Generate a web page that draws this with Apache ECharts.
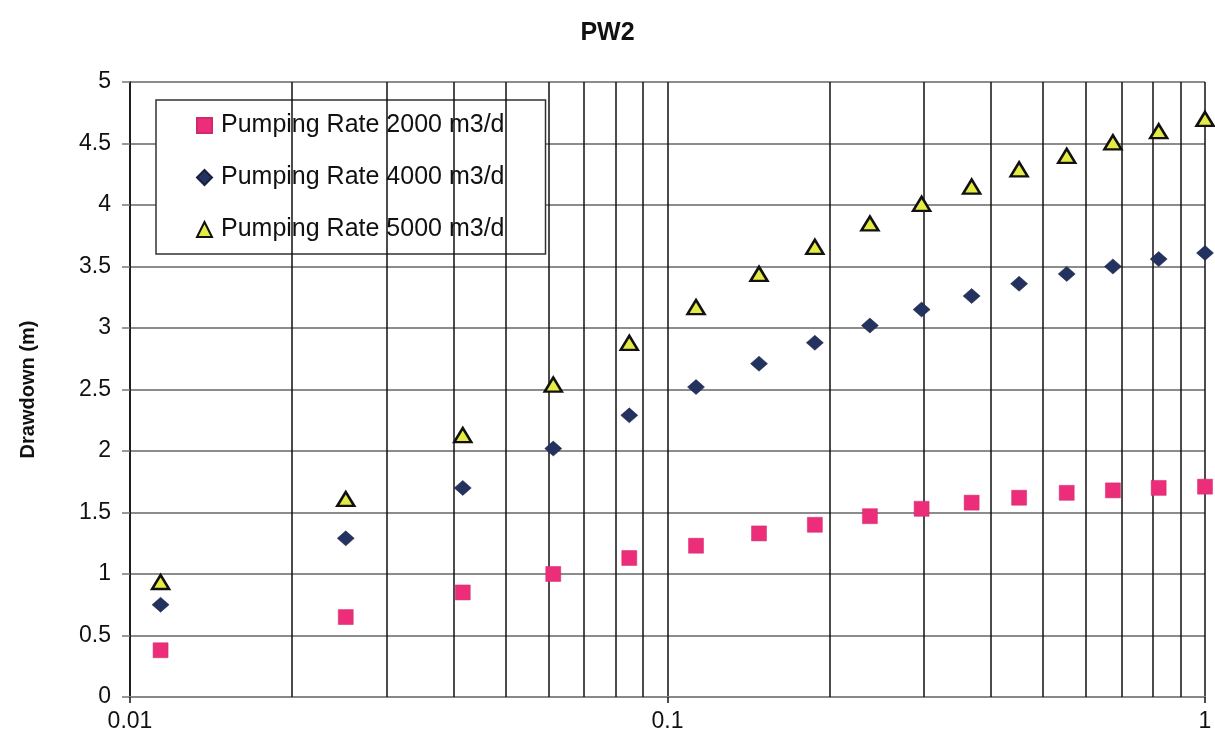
<!DOCTYPE html>
<html>
<head>
<meta charset="utf-8">
<title>PW2</title>
<script src="https://cdn.jsdelivr.net/npm/echarts@6/dist/echarts.min.js"></script>
<style>
  html, body { margin: 0; padding: 0; background: #fff; }
  #chart { width: 1215px; height: 751px; }
</style>
</head>
<body>
<div id="chart"></div>
<script>
// time (x, log axis) shared by all three tests
const times = [0.0114, 0.0252, 0.0416, 0.0613, 0.0849, 0.113, 0.148, 0.188, 0.238, 0.297, 0.368, 0.451, 0.553, 0.674, 0.820, 1.0];

// drawdown (m) for each pumping rate
const rate2000 = [0.38, 0.65, 0.85, 1.00, 1.13, 1.23, 1.33, 1.40, 1.47, 1.53, 1.58, 1.62, 1.66, 1.68, 1.70, 1.71];
const rate4000 = [0.75, 1.29, 1.70, 2.02, 2.29, 2.52, 2.71, 2.88, 3.02, 3.15, 3.26, 3.36, 3.44, 3.50, 3.56, 3.61];
const rate5000 = [0.935, 1.61, 2.13, 2.54, 2.88, 3.17, 3.44, 3.66, 3.85, 4.01, 4.15, 4.29, 4.40, 4.51, 4.60, 4.70];

const seriesNames = ['Pumping Rate 2000 m3/d', 'Pumping Rate 4000 m3/d', 'Pumping Rate 5000 m3/d'];

// minor log grid lines between the decades
const minorGrid = [0.02, 0.03, 0.04, 0.05, 0.06, 0.07, 0.08, 0.09, 0.2, 0.3, 0.4, 0.5, 0.6, 0.7, 0.8, 0.9];

const font = '"Liberation Sans", Arial, sans-serif';

function pairs(ys) {
    return times.map((t, i) => [t, ys[i]]);
}

const chart = echarts.init(document.getElementById('chart'));

const option = {
    backgroundColor: '#fff',
    animation: false,
    title: {
        text: 'PW2',
        left: 'center',
        top: 16,
        textStyle: { fontFamily: font, fontSize: 25, fontWeight: 'bold', color: '#111' }
    },
    grid: { left: 130, right: 10, top: 82, bottom: 54 },
    legend: {
        orient: 'vertical',
        left: 156,
        top: 100,
        padding: [13, 41, 12, 40],
        itemGap: 27,
        itemWidth: 15,
        itemHeight: 15,
        borderColor: '#333',
        borderWidth: 1.5,
        backgroundColor: '#fff',
        textStyle: { fontFamily: font, fontSize: 25, color: '#111', padding: [0, 0, 0, 4] },
        data: seriesNames
    },
    xAxis: {
        type: 'log',
        logBase: 10,
        min: 0.01,
        max: 1,
        axisLine: { lineStyle: { color: '#888', width: 2 } },
        axisTick: { show: true, length: 6, lineStyle: { color: '#111', width: 1.5 } },
        axisLabel: {
            fontFamily: font, fontSize: 23, color: '#111', margin: 13,
            formatter: v => String(+v.toPrecision(2))
        },
        splitLine: { show: true, lineStyle: { color: '#111', width: 1.5 } }
    },
    yAxis: {
        type: 'value',
        min: 0,
        max: 5,
        interval: 0.5,
        name: 'Drawdown (m)',
        nameLocation: 'middle',
        nameGap: 92,
        nameTextStyle: { fontFamily: font, fontSize: 20, fontWeight: 'bold', color: '#111' },
        axisLine: { show: true, lineStyle: { color: '#111', width: 1.5 } },
        axisTick: { show: true, length: 8, lineStyle: { color: '#777', width: 1.5 } },
        axisLabel: { fontFamily: font, fontSize: 23, color: '#111', margin: 19 },
        splitLine: { show: true, lineStyle: { color: '#8c8c8c', width: 2 } }
    },
    series: [
        {
            name: seriesNames[0],
            type: 'scatter',
            clip: false,
            symbol: 'rect',
            symbolSize: 15,
            itemStyle: { color: '#ec2d7a', borderColor: '#d02a6c', borderWidth: 0.5, opacity: 1 },
            data: pairs(rate2000),
            markLine: {
                silent: true,
                symbol: 'none',
                label: { show: false },
                lineStyle: { color: '#111', width: 1.5, type: 'solid' },
                data: minorGrid.map(v => ({ xAxis: v }))
            },
            z: 5
        },
        {
            name: seriesNames[1],
            type: 'scatter',
            clip: false,
            symbol: 'diamond',
            symbolSize: [17, 15],
            itemStyle: { color: '#243260', borderColor: '#18203e', borderWidth: 0.5, opacity: 1 },
            data: pairs(rate4000),
            z: 5
        },
        {
            name: seriesNames[2],
            type: 'scatter',
            clip: false,
            symbol: 'triangle',
            symbolSize: [17, 14],
            itemStyle: { color: '#e4ec44', borderColor: '#111', borderWidth: 2.5, opacity: 1 },
            data: pairs(rate5000),
            z: 5
        }
    ]
};

chart.setOption(option);
</script>
</body>
</html>
